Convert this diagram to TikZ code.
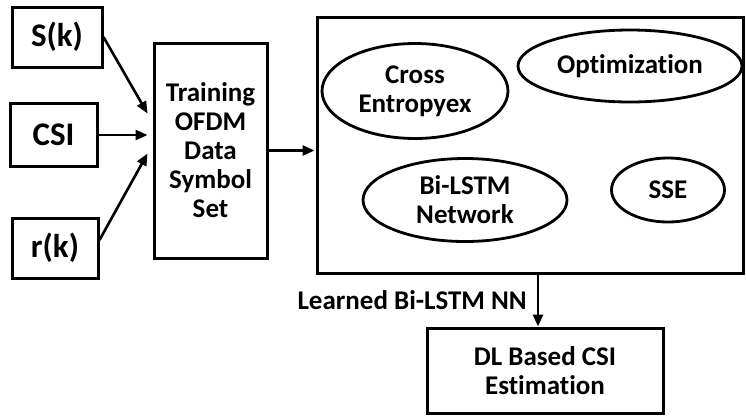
\documentclass[tikz,border=0pt]{standalone}
\usepackage{fontspec}
\setmainfont[Ligatures=NoCommon]{Carlito}
\usetikzlibrary{shapes.geometric,arrows.meta,calc}
\begin{document}
\begin{tikzpicture}[x=1pt,y=-1pt,
  every node/.style={font=\bfseries\fontsize{27}{29}\selectfont, align=center, inner sep=0pt},
  box/.style={draw, line width=3pt, rectangle},
  inbox/.style={box, font=\bfseries\fontsize{33}{36}\selectfont},
  oval/.style={draw, line width=2.8pt, ellipse},
  arr/.style={line width=2.6pt, -{Triangle[length=12pt,width=10pt]}}]
\useasboundingbox (0,0) rectangle (746,416);
\node[inbox, minimum width=90pt, minimum height=60pt] (sk) at (57,37) {S(k)};
\node[inbox, minimum width=87pt, minimum height=63pt] (csi) at (53.5,135) {CSI};
\node[inbox, minimum width=86pt, minimum height=60pt] (rk) at (55,248) {r(k)};
\node[box, minimum width=113pt, minimum height=215pt] (train) at (210.5,150.5) {Training\\OFDM\\Data\\Symbol\\Set};
\node[box, minimum width=426pt, minimum height=256pt] (big) at (530,145) {};
\node[oval, minimum width=186pt, minimum height=95pt] (ce) at (415,91) {Cross\\Entropyex};
\node[oval, minimum width=224pt, minimum height=72pt] (opt) at (630,66) {Optimization};
\node[oval, minimum width=204pt, minimum height=83pt] (bil) at (465,200) {Bi-LSTM\\Network};
\node[oval, minimum width=113pt, minimum height=64pt] (sse) at (668,190) {SSE};
\node[box, minimum width=236pt, minimum height=85pt] (dl) at (545,370.5) {DL Based CSI\\Estimation};
\draw[arr] (sk.east) -- ([xshift=-5pt,yshift=37pt]train.west);
\draw[arr] (csi.east) -- ([xshift=-5pt]csi.east -| train.west);
\draw[arr] ([yshift=8pt]rk.east) -- ([xshift=-5pt,yshift=-3pt]train.west);
\draw[arr] (train.east) -- ([xshift=-1pt]train.east -| big.west);
\draw[arr] ([xshift=-7pt]dl.north |- big.south) -- node[left=10pt] (lab) {Learned Bi-LSTM NN} ([xshift=-7pt]dl.north);
\end{tikzpicture}
\end{document}
